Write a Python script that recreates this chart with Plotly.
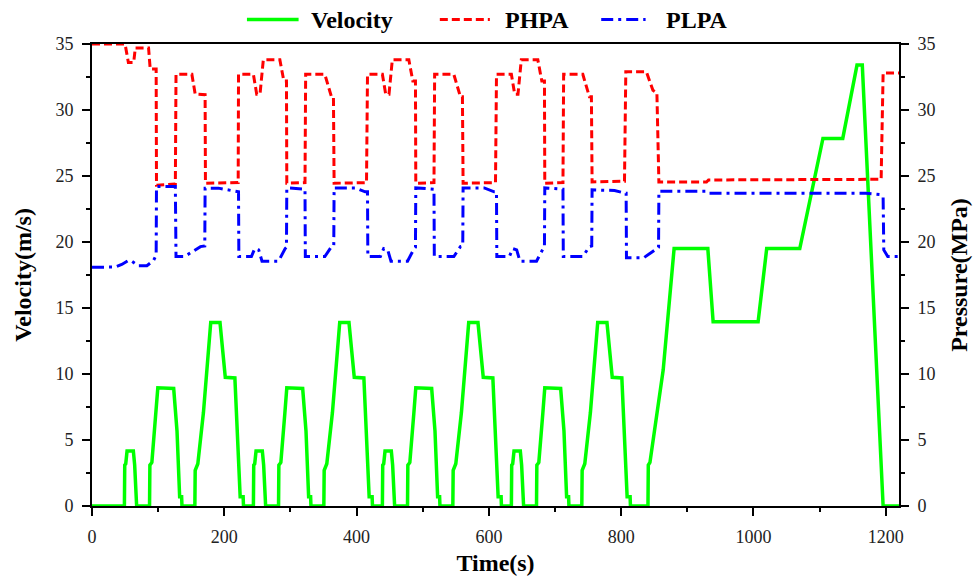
import plotly.graph_objects as go

# ---------------- data ----------------
vel_t = [0, 49, 49.5, 51, 53, 62.5, 64.5, 67.5, 87, 87.5, 90.5, 96.5, 99.5, 123.5, 128.5, 132.5, 135.5, 136,
         155.5, 156, 160, 168.5, 179.5, 193.5, 201.5, 216, 219.5, 224, 228.5, 229,
         244, 244.5, 246, 248, 257.5, 259.5, 262.5, 282, 282.5, 285.5, 291.5, 294.5, 318.5, 323.5, 327.5, 330.5, 331,
         350.5, 351, 355, 363.5, 374.5, 388.5, 396.5, 411, 414.5, 419, 423.5, 424,
         439, 439.5, 441, 443, 452.5, 454.5, 457.5, 477, 477.5, 480.5, 486.5, 489.5, 513.5, 518.5, 522.5, 525.5, 526,
         545.5, 546, 550, 558.5, 569.5, 583.5, 591.5, 606, 609.5, 614, 618.5, 619,
         634, 634.5, 636, 638, 647.5, 649.5, 652.5, 672, 672.5, 675.5, 681.5, 684.5, 708.5, 713.5, 717.5, 720.5, 721,
         740.5, 741, 745, 753.5, 764.5, 778.5, 786.5, 801, 804.5, 809, 813.5, 814,
         840.5, 841, 843.5, 853.5, 863.5, 880, 931, 939, 1007, 1020, 1070, 1105, 1135, 1156.5, 1164.5, 1196, 1220]
vel_v = [0, 0, 3.1, 3.2, 4.17, 4.17, 3.1, 0, 0, 3.1, 3.3, 7.0, 8.95, 8.9, 5.7, 0.7, 0.7, 0,
         0, 2.7, 3.2, 7.1, 13.9, 13.9, 9.75, 9.7, 5.7, 0.7, 0.7, 0,
         0, 3.1, 3.2, 4.17, 4.17, 3.1, 0, 0, 3.1, 3.3, 7.0, 8.95, 8.9, 5.7, 0.7, 0.7, 0,
         0, 2.7, 3.2, 7.1, 13.9, 13.9, 9.75, 9.7, 5.7, 0.7, 0.7, 0,
         0, 3.1, 3.2, 4.17, 4.17, 3.1, 0, 0, 3.1, 3.3, 7.0, 8.95, 8.9, 5.7, 0.7, 0.7, 0,
         0, 2.7, 3.2, 7.1, 13.9, 13.9, 9.75, 9.7, 5.7, 0.7, 0.7, 0,
         0, 3.1, 3.2, 4.17, 4.17, 3.1, 0, 0, 3.1, 3.3, 7.0, 8.95, 8.9, 5.7, 0.7, 0.7, 0,
         0, 2.7, 3.2, 7.1, 13.9, 13.9, 9.75, 9.7, 5.7, 0.7, 0.7, 0,
         0, 3.1, 3.3, 7.0, 10.3, 19.5, 19.5, 13.95, 13.95, 19.5, 19.5, 27.85, 27.85, 33.4, 33.4, 0, 0]

phpa_t = [0, 50, 55, 63, 65.5, 85.5, 88, 97, 97.5, 126, 127, 151, 156, 171, 171.5, 221, 221.5,
          244, 249, 254, 259, 284, 290, 294, 294.5, 322, 323, 352, 362, 365, 366, 415, 416.5,
          439, 444, 449, 454, 479, 485, 489, 489.5, 517, 518, 547, 557, 560, 561, 610, 611.5,
          634, 639, 644, 649, 674, 680, 684, 684.5, 712, 713, 742, 752, 755, 756, 805, 807,
          838, 848, 854, 857, 929, 932, 1180, 1193, 1196, 1220]
phpa_p = [35, 35, 33.6, 33.6, 34.7, 34.7, 33.1, 33.1, 24.3, 24.4, 32.7, 32.7, 31.2, 31.16, 24.45, 24.5, 32.7,
          32.7, 31.2, 31.2, 33.8, 33.8, 32.2, 32.2, 24.45, 24.5, 32.7, 32.7, 31.0, 31.0, 24.45, 24.5, 32.7,
          32.7, 31.2, 31.2, 33.8, 33.8, 32.2, 32.2, 24.45, 24.5, 32.7, 32.7, 31.0, 31.0, 24.45, 24.5, 32.7,
          32.7, 31.2, 31.2, 33.8, 33.8, 32.2, 32.2, 24.45, 24.5, 32.7, 32.7, 31.0, 31.0, 24.55, 24.6, 32.9,
          32.9, 31.5, 31.3, 24.55, 24.55, 24.7, 24.7, 24.75, 32.8, 32.8]

plpa_t = [0, 35, 45, 55, 60, 70, 83, 93, 97, 97.5, 126, 127, 140, 164, 170.5, 171, 191, 219, 221.5, 222,
          241, 246, 252, 257, 282, 292, 294, 294.5, 320, 322, 322.5, 352, 362, 365.5, 366, 398, 413, 416.5, 417,
          436, 441, 447, 452, 477, 487, 489, 489.5, 515, 517, 517.5, 547, 557, 560.5, 561, 593, 608, 611.5, 612,
          631, 636, 642, 647, 672, 682, 684, 684.5, 710, 712, 712.5, 742, 752, 755.5, 756, 790, 806, 807.5, 808,
          834, 854, 856.5, 857, 929, 932, 1170, 1191, 1196, 1197, 1203, 1220]
plpa_p = [18.09, 18.1, 18.3, 18.6, 18.55, 18.2, 18.2, 18.6, 19.0, 24.2, 24.2, 18.9, 18.9, 19.65, 19.7, 24.08, 24.08, 23.8, 23.8, 18.9,
          18.9, 19.5, 19.4, 18.55, 18.55, 19.5, 19.6, 24.1, 24.0, 24.0, 18.9, 18.9, 19.65, 19.7, 24.1, 24.1, 23.8, 23.8, 18.9,
          18.9, 19.5, 19.4, 18.55, 18.55, 19.5, 19.6, 24.1, 24.0, 24.0, 18.9, 18.9, 19.65, 19.7, 24.1, 24.1, 23.8, 23.8, 18.9,
          18.9, 19.5, 19.4, 18.55, 18.55, 19.5, 19.6, 24.1, 24.0, 24.0, 18.9, 18.9, 19.65, 19.7, 23.95, 23.9, 23.7, 23.7, 18.8,
          18.8, 19.5, 19.6, 23.85, 23.85, 23.7, 23.7, 23.6, 23.4, 19.4, 18.9, 18.9]

x_tickvals = [0, 200, 400, 600, 800, 1000, 1200]
y_tickvals = [0, 5, 10, 15, 20, 25, 30, 35]
series_names = ["Velocity", "PHPA", "PLPA"]
series_colors = ["#00FF00", "#FF0000", "#0000FF"]
series_dash = ["solid", "8px,4px", "12px,5px,3px,5px"]

FONT = "Liberation Serif"

fig = go.Figure()
fig.add_trace(go.Scatter(x=vel_t, y=vel_v, mode="lines", name=series_names[0],
                         line=dict(color=series_colors[0], width=3.5, dash=series_dash[0]), yaxis="y"))
fig.add_trace(go.Scatter(x=phpa_t, y=phpa_p, mode="lines", name=series_names[1],
                         line=dict(color=series_colors[1], width=3, dash=series_dash[1]), yaxis="y2"))
fig.add_trace(go.Scatter(x=plpa_t, y=plpa_p, mode="lines", name=series_names[2],
                         line=dict(color=series_colors[2], width=3, dash=series_dash[2]), yaxis="y2"))

axis_common = dict(showline=True, linecolor="black", linewidth=2, ticks="outside", ticklen=8,
                   tickwidth=2, tickcolor="black", showgrid=False, zeroline=False,
                   ticklabelstandoff=5, automargin=False,
                   tickfont=dict(family=FONT, size=18, color="#222"))

fig.update_layout(
    width=980, height=576,
    margin=dict(l=92, r=81, t=44, b=70),
    paper_bgcolor="white", plot_bgcolor="white",
    showlegend=False,
    font=dict(family=FONT, size=18, color="black"),
    xaxis=dict(range=[0, 1220], tickvals=x_tickvals, mirror=True,
               minor=dict(ticks="outside", ticklen=4, tickwidth=2, tickcolor="black", dtick=100, showgrid=False),
               title=dict(text="<b>Time(s)</b>", font=dict(family=FONT, size=24, color="black"), standoff=19),
               **axis_common),
    yaxis=dict(range=[0, 35], tickvals=y_tickvals,
               minor=dict(ticks="outside", ticklen=4, tickwidth=2, tickcolor="black", dtick=2.5, showgrid=False),
               title=dict(text="<b>Velocity(m/s)</b>", font=dict(family=FONT, size=24, color="black"), standoff=17),
               **axis_common),
    yaxis2=dict(range=[0, 35], tickvals=y_tickvals, overlaying="y", side="right",
                minor=dict(ticks="outside", ticklen=4, tickwidth=2, tickcolor="black", dtick=2.5, showgrid=False),
                title=dict(text="<b>Pressure(MPa)</b>", font=dict(family=FONT, size=24, color="black"), standoff=16),
                **axis_common),
)

# manual legend (long line samples like the reference)
leg_y = 1.053
leg_items = [(0.192, 0.256, 0.269), (0.431, 0.493, 0.509), (0.631, 0.686, 0.709)]
for (x0, x1, xt), nm, col, dsh in zip(leg_items, series_names, series_colors, series_dash):
    fig.add_shape(type="line", xref="paper", yref="paper", x0=x0, x1=x1, y0=leg_y, y1=leg_y,
                  line=dict(color=col, width=3.5 if dsh == "solid" else 3, dash=dsh))
    fig.add_annotation(xref="paper", yref="paper", x=xt, y=leg_y, xanchor="left", yanchor="middle",
                       text="<b>" + nm + "</b>", showarrow=False,
                       font=dict(family=FONT, size=24, color="black"))

fig.write_html("out.html")
